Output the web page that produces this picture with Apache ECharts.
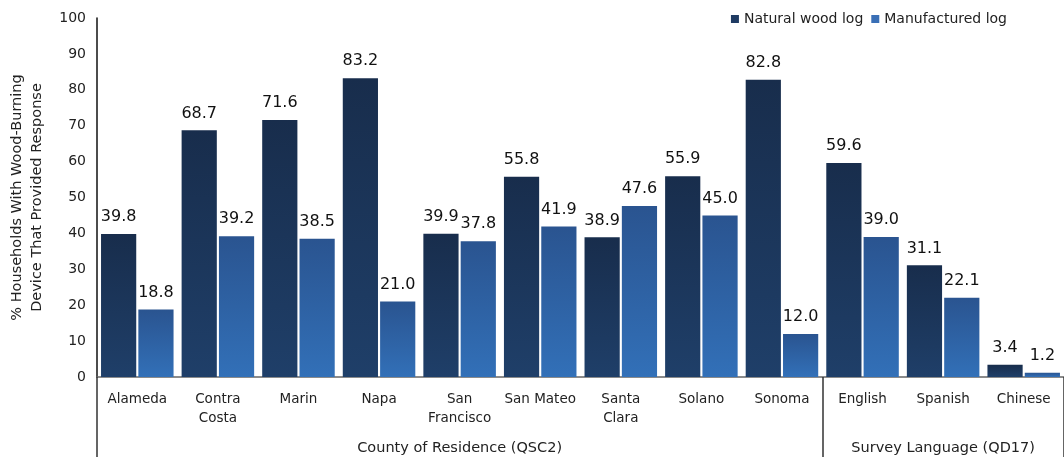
<!DOCTYPE html>
<html>
<head>
    <meta charset="utf-8">
    <script src="https://cdn.jsdelivr.net/npm/echarts@6/dist/echarts.min.js"></script>
</head>
<body style="margin:0">
    <div id="main" style="width:1064px;height:457px;"></div>
    <script type="text/javascript">
        var categories = ['Alameda', 'Contra\nCosta', 'Marin', 'Napa', 'San\nFrancisco', 'San Mateo',
            'Santa\nClara', 'Solano', 'Sonoma', 'English', 'Spanish', 'Chinese'];
        var naturalLog = [39.8, 68.7, 71.6, 83.2, 39.9, 55.8, 38.9, 55.9, 82.8, 59.6, 31.1, 3.4];
        var manufacturedLog = [18.8, 39.2, 38.5, 21.0, 37.8, 41.9, 47.6, 45.0, 12.0, 39.0, 22.1, 1.2];
        // group label sits under the middle category of each group
        var groupLabels = ['', '', '', '', 'County of Residence (QSC2)', '', '', '', '', '', 'Survey Language (QD17)', ''];
        var groupBreaks = [0, 9];

        var font = 'DejaVu Sans';
        var chart = echarts.init(document.getElementById('main'));

        function grad(top, bottom) {
            return new echarts.graphic.LinearGradient(0, 0, 0, 1, [
                { offset: 0, color: top },
                { offset: 1, color: bottom }
            ]);
        }

        var valueLabel = {
            show: true,
            position: 'top',
            distance: 9,
            fontSize: 16,
            color: '#111',
            fontFamily: font,
            formatter: function (p) { return p.value.toFixed(1); }
        };

        var option = {
            animation: false,
            textStyle: { fontFamily: font },
            grid: { left: 97, right: 0, top: 18, bottom: 80, outerBoundsMode: 'none', containLabel: false },
            legend: {
                right: 52,
                top: 7,
                icon: 'rect',
                itemWidth: 8,
                itemHeight: 8,
                itemGap: 8,
                textStyle: { fontFamily: font, fontSize: 14, color: '#222' },
                data: [
                    { name: 'Natural wood log', itemStyle: { color: '#1f3b63' } },
                    { name: 'Manufactured log', itemStyle: { color: '#3a6fb6' } }
                ]
            },
            xAxis: [
                {
                    type: 'category',
                    data: categories,
                    axisLine: { lineStyle: { color: '#666', width: 1.5 } },
                    axisTick: { show: false },
                    axisLabel: {
                        interval: 0,
                        margin: 13,
                        fontSize: 13.5,
                        lineHeight: 19,
                        color: '#222',
                        fontFamily: font
                    }
                },
                {
                    type: 'category',
                    position: 'bottom',
                    data: groupLabels,
                    axisLine: { show: false },
                    axisTick: {
                        show: true,
                        length: 80,
                        lineStyle: { color: '#333', width: 1.5 },
                        interval: function (index) { return groupBreaks.indexOf(index) >= 0; }
                    },
                    axisLabel: {
                        interval: 0,
                        margin: 64,
                        fontSize: 14.5,
                        color: '#222',
                        fontFamily: font
                    }
                }
            ],
            yAxis: {
                type: 'value',
                min: 0,
                max: 100,
                interval: 10,
                name: '% Households With Wood-Burning\nDevice That Provided Response',
                nameLocation: 'middle',
                nameGap: 50,
                nameTextStyle: { fontSize: 14.5, color: '#222', lineHeight: 20, fontFamily: font },
                splitLine: { show: false },
                axisLine: { show: true, lineStyle: { color: '#111', width: 1.5 } },
                axisTick: { show: false },
                axisLabel: { fontSize: 14, color: '#222', margin: 11, fontFamily: font }
            },
            series: [
                {
                    name: 'Natural wood log',
                    type: 'bar',
                    data: naturalLog,
                    barGap: '6%',
                    barCategoryGap: '10%',
                    itemStyle: { color: grad('#182d4c', '#1f3f69'), borderWidth: 0, borderRadius: 0 },
                    label: valueLabel
                },
                {
                    name: 'Manufactured log',
                    type: 'bar',
                    data: manufacturedLog,
                    itemStyle: { color: grad('#2a5490', '#3270b8'), borderWidth: 0, borderRadius: 0 },
                    label: valueLabel
                }
            ]
        };
        chart.setOption(option);
    </script>
</body>
</html>
